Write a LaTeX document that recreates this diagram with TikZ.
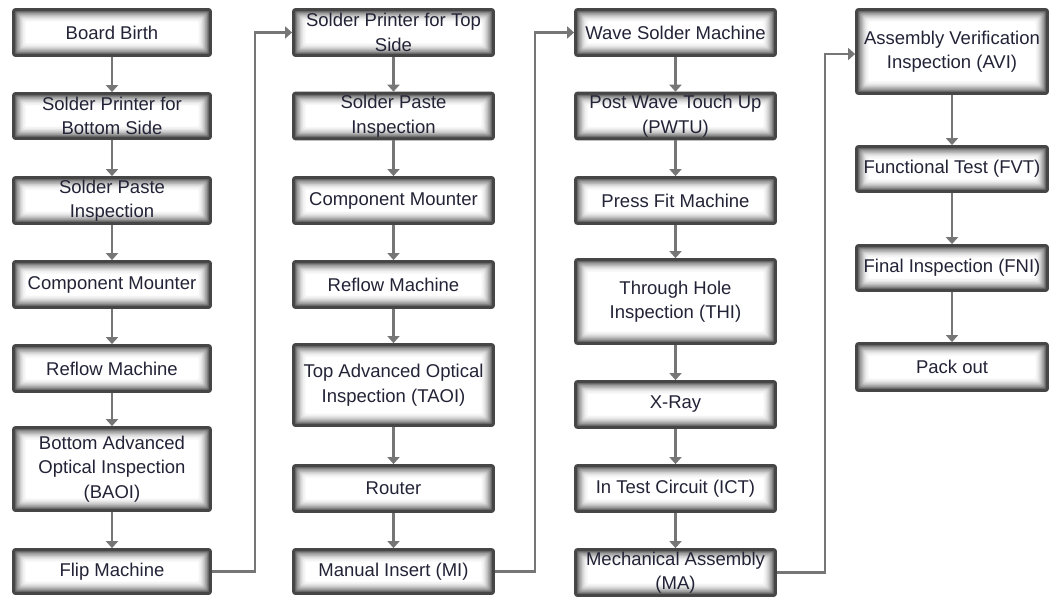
\documentclass[tikz,border=0pt]{standalone}
\usepackage{fontspec}
\setmainfont{Liberation Sans}
\usetikzlibrary{arrows.meta}
\definecolor{boxborder}{RGB}{70,70,70}
\definecolor{arrgray}{RGB}{118,118,118}
\definecolor{txt}{RGB}{35,35,55}
\tikzset{
  box/.style={draw=boxborder, line width=2.8pt, rounded corners=2pt, align=center,
    font=\fontsize{18.5}{24.5}\selectfont, text=txt, inner sep=2pt,
    path picture={
      \foreach \d/\c in {0/72,1.2/60,2.4/49,3.6/39,4.8/30,6/22,7.2/15,8.4/10,9.6/6,10.8/3}{
        \fill[black!\c] ([shift={(\d pt,-\d pt)}]path picture bounding box.north west)
          rectangle ([shift={(-\d pt,\d pt)}]path picture bounding box.south east);
      }
      \fill[white] ([shift={(12pt,-12pt)}]path picture bounding box.north west)
        rectangle ([shift={(-12pt,12pt)}]path picture bounding box.south east);
    }},
  bx/.style 2 args={box, minimum width=#1pt, minimum height=#2pt},
  arr/.style={draw=arrgray, line width=2.2pt, -{Triangle[width=12pt,length=7pt]}},
}
\begin{document}
\begin{tikzpicture}[x=1pt,y=-1pt]
\useasboundingbox (0,0) rectangle (1051,599);
% column 1
\node[bx={197}{46}] (b1) at (112,32.5) {Board Birth};
\node[bx={197}{45}] (b2) at (112,116) {Solder Printer for\\Bottom Side};
\node[bx={197}{46}] (b3) at (112,200.5) {Solder Paste\\Inspection};
\node[bx={197}{46}] (b4) at (112,284.5) {Component Mounter};
\node[bx={197}{46}] (b5) at (112,368.5) {Reflow Machine};
\node[bx={197}{83}] (b6) at (112,469) {Bottom Advanced\\Optical Inspection\\(BAOI)};
\node[bx={197}{44}] (b7) at (112,571.5) {Flip Machine};
% column 2
\node[bx={200}{46}] (c1) at (393.5,32.5) {Solder Printer for Top\\Side};
\node[bx={200}{45}] (c2) at (393.5,116) {Solder Paste\\Inspection};
\node[bx={200}{46}] (c3) at (393.5,200.5) {Component Mounter};
\node[bx={200}{46}] (c4) at (393.5,284.5) {Reflow Machine};
\node[bx={200}{81}] (c5) at (393.5,385) {Top Advanced Optical\\Inspection (TAOI)};
\node[bx={200}{46}] (c6) at (393.5,488.5) {Router};
\node[bx={200}{44}] (c7) at (393.5,571.5) {Manual Insert (MI)};
% column 3
\node[bx={200}{46}] (d1) at (675.5,32.5) {Wave Solder Machine};
\node[bx={200}{45}] (d2) at (675.5,116) {Post Wave Touch Up\\(PWTU)};
\node[bx={200}{46}] (d3) at (675.5,200.5) {Press Fit Machine};
\node[bx={200}{84}] (d4) at (675.5,301.5) {Through Hole\\Inspection (THI)};
\node[bx={200}{46}] (d5) at (675.5,404.5) {X-Ray};
\node[bx={200}{46}] (d6) at (675.5,488.5) {In Test Circuit (ICT)};
\node[bx={200}{46}] (d7) at (675.5,572.5) {Mechanical Assembly\\(MA)};
% column 4
\node[bx={191}{84}] (e1) at (952,51.5) {Assembly Verification\\Inspection (AVI)};
\node[bx={191}{45}] (e2) at (952,169) {Functional Test (FVT)};
\node[bx={191}{45}] (e3) at (952,268) {Final Inspection (FNI)};
\node[bx={191}{47}] (e4) at (952,367) {Pack out};
% connectors
\foreach \a/\b in {b1/b2,b2/b3,b3/b4,b4/b5,b5/b6,b6/b7,
                   c1/c2,c2/c3,c3/c4,c4/c5,c5/c6,c6/c7,
                   d1/d2,d2/d3,d3/d4,d4/d5,d5/d6,d6/d7,
                   e1/e2,e2/e3,e3/e4}
  \draw[arr] (\a) -- (\b);
\coordinate (j1a) at (255,571.5);
\coordinate (j1b) at (255,32.5);
\coordinate (j2a) at (535,571.5);
\coordinate (j2b) at (535,32.5);
\coordinate (j3a) at (825,572.5);
\coordinate (j3b) at (825,54);
\draw[arr] (b7.east) -- (j1a) -- (j1b) -- (c1.west);
\draw[arr] (c7.east) -- (j2a) -- (j2b) -- (d1.west);
\draw[arr] (d7.east) -- (j3a) -- (j3b) -- (e1.west |- j3b);
\end{tikzpicture}
\end{document}
